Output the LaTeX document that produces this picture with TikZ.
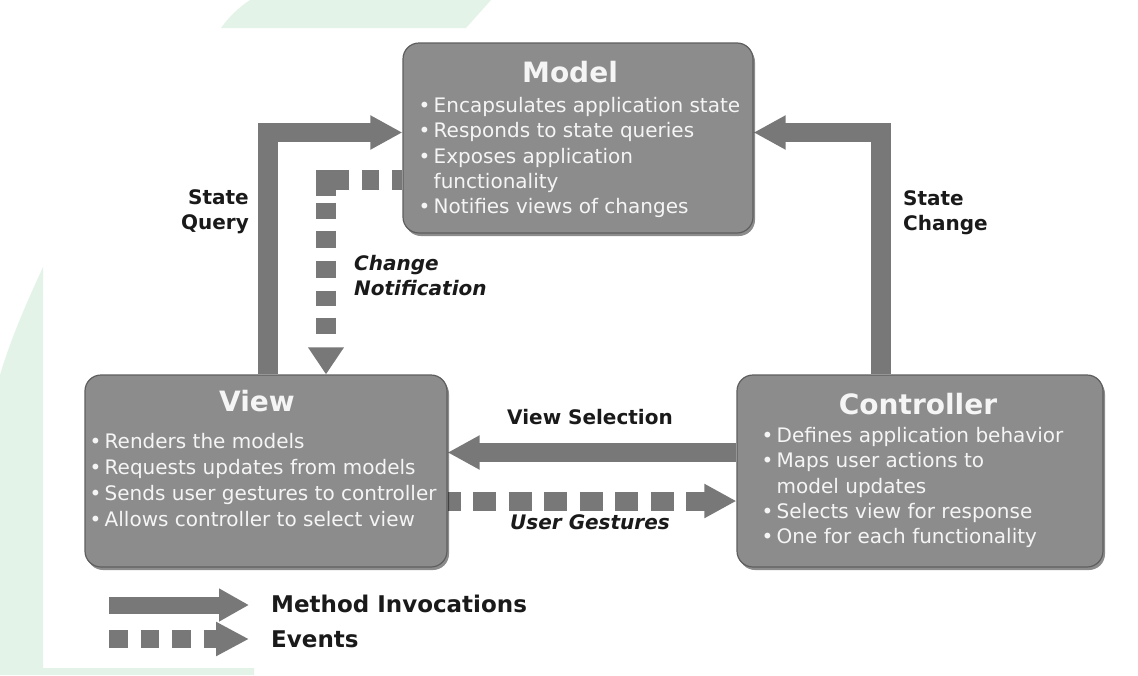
\documentclass[tikz,border=0pt]{standalone}
\usepackage{fontspec}
\setmainfont{DejaVu Sans}
\usetikzlibrary{arrows.meta,calc,shadows,backgrounds}
\definecolor{bggreen}{HTML}{E4F3E8}
\definecolor{boxfill}{HTML}{8C8C8C}
\definecolor{boxedge}{HTML}{5E5E5E}
\definecolor{arrowgray}{HTML}{787878}
\definecolor{boxtext}{HTML}{F5F5F5}
\definecolor{labeltext}{HTML}{1A1A1A}
\newcommand{\bulind}{\hphantom{•\,}}
\begin{document}
\begin{tikzpicture}[x=1pt,y=-1pt,
  mvcbox/.style={rounded corners=16pt, fill=boxfill, draw=boxedge, line width=1.2pt, inner sep=0pt,
    drop shadow={shadow xshift=2pt,shadow yshift=-3pt,fill=black,opacity=.45}},
  boxtitle/.style={font=\fontsize{28}{30}\selectfont\bfseries, text=boxtext, inner sep=0pt},
  boxbody/.style={font=\fontsize{20}{25.3}\selectfont, text=boxtext, align=left, inner sep=0pt, anchor=north west},
  lbl/.style={font=\fontsize{20}{25}\selectfont\bfseries, text=labeltext, inner sep=0pt},
  ilbl/.style={font=\fontsize{20}{25}\selectfont\bfseries\itshape, text=labeltext, inner sep=0pt},
  leglbl/.style={font=\fontsize{23}{25}\selectfont\bfseries, text=labeltext, inner sep=0pt, anchor=west},
  method/.style={draw=arrowgray, line width=19.5pt, line join=miter, -{Triangle[length=32pt,width=32pt]}},
  event/.style={draw=arrowgray, line width=19pt, line join=miter, -{Triangle[length=32pt,width=32pt]}},
]
\useasboundingbox (0,0) rectangle (1138,675);

% boxes
\node[mvcbox, minimum width=350pt, minimum height=190pt] (model) at (578,138) {};
\node[mvcbox, minimum width=362pt, minimum height=192pt] (view) at (266,471) {};
\node[mvcbox, minimum width=366pt, minimum height=192pt] (ctrl) at (920,471) {};

% titles
\node[boxtitle] (modeltitle) at ($(model.north)+(-8,30)$) {Model};
\node[boxtitle] (viewtitle) at ($(view.north)+(-9,27)$) {View};
\node[boxtitle] (ctrltitle) at ($(ctrl.north)+(-2,30)$) {Controller};

% bodies
\node[boxbody] (modelbody) at ($(model.north west)+(16,54)$)
  {\rule{0pt}{16pt}•\,Encapsulates application state\\
   •\,Responds to state queries\\
   •\,Exposes application\\
   \bulind functionality\\
   •\,Notifies views of changes};
\node[boxbody, font=\fontsize{20}{26}\selectfont] (viewbody) at ($(view.north west)+(5,58)$)
  {\rule{0pt}{16pt}•\,Renders the models\\
   •\,Requests updates from models\\
   •\,Sends user gestures to controller\\
   •\,Allows controller to select view};
\node[boxbody] (ctrlbody) at ($(ctrl.north west)+(25,52)$)
  {\rule{0pt}{16pt}•\,Defines application behavior\\
   •\,Maps user actions to\\
   \bulind model updates\\
   •\,Selects view for response\\
   •\,One for each functionality};

% labels
\node[lbl, align=right, anchor=east] (sqlbl) at (249,212) {State\\Query};
\node[lbl, align=left, anchor=west] (sclbl) at (903,213) {State\\Change};
\node[ilbl, align=left, anchor=west] (cnlbl) at (354,276) {Change\\Notification};
\node[lbl] (vslbl) at (590,417) {View Selection};
\node[ilbl] (uglbl) at (590,522) {User Gestures};

% legend labels
\node[leglbl] (legmi) at (271,604) {Method Invocations};
\node[leglbl] (legev) at (271,639) {Events};
\coordinate (m1) at (109,605);
\coordinate (m2) at (249,605);
\coordinate (e1) at (109,639);
\coordinate (e2) at (249,639);

% bend / row coordinates
\coordinate (sqb) at (268,132.5);
\coordinate (scb) at (881,132.5);
\coordinate (cnb) at (326,180);
\coordinate (vsrow) at (600,452.5);
\coordinate (ugrow) at (600,501);

\begin{scope}[on background layer]
  \fill[white] (0,0) rectangle (1138,675);
  \fill[bggreen] (221,28) .. controls (229,17) and (238,8) .. (250,0) -- (491,0) -- (466,28) -- cycle;
  \fill[bggreen] (43,267) .. controls (28,300) and (12,335) .. (0,375) -- (0,675) -- (254,675) -- (254,668) -- (43,668) -- cycle;

  % connectors
  \draw[method] (view.north -| sqb) -- (sqb) -- (model.west |- sqb);
  \draw[method] (ctrl.north -| scb) -- (scb) -- (model.east |- scb);
  \draw[method] (ctrl.west |- vsrow) -- (view.east |- vsrow);
  \draw[event, dash pattern=on 23pt off 12.5pt, dash phase=10pt] (view.east |- ugrow) -- (ctrl.west |- ugrow);
  \draw[event, line width=20pt, -{Triangle[length=27pt,width=34pt]},
        dash pattern=on 10pt off 13pt on 17pt off 13pt on 39pt off 7pt on 16pt off 12pt on 17pt off 13pt on 17pt off 13pt on 15pt off 12pt on 16pt off 40pt]
        (model.west |- cnb) -- (cnb) -- (view.north -| cnb);

  % legend
  \draw[method, line width=17pt, -{Triangle[length=30pt,width=31pt]}] (m1) -- (m2);
  \draw[event, line width=18pt, dash pattern=on 18.5pt off 13pt, -{Triangle[length=33pt,width=32pt]}] (e1) -- (e2);
\end{scope}
\end{tikzpicture}
\end{document}
